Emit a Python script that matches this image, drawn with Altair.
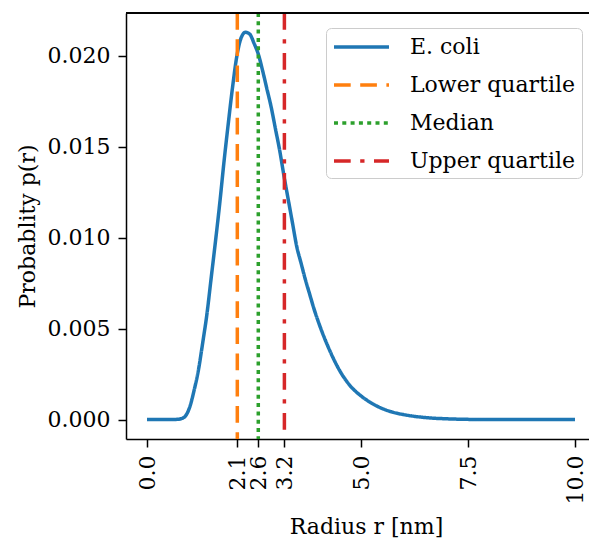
import altair as alt
import pandas as pd

# ---- data ----
radius = [0.0, 0.5, 0.7, 0.8, 0.9, 1.0, 1.1, 1.2, 1.3, 1.4, 1.5, 1.6, 1.7,
          1.8, 1.9, 2.0, 2.1, 2.2, 2.3, 2.4, 2.5, 2.6, 2.7, 2.8, 2.9, 3.0,
          3.1, 3.2, 3.3, 3.4, 3.5, 3.6, 3.7, 3.8, 3.9, 4.0, 4.25, 4.5, 4.75,
          5.0, 5.25, 5.5, 5.75, 6.0, 6.5, 7.0, 7.5, 8.0, 10.0]
prob = [0.0, 0.0, 0.00001, 0.00005, 0.0002, 0.0007, 0.0016, 0.0027, 0.0042,
        0.0058, 0.0078, 0.0098, 0.0119, 0.0142, 0.0163, 0.0183, 0.0200,
        0.0210, 0.0213, 0.0212, 0.0207, 0.0201, 0.0192, 0.0182, 0.0172,
        0.0160, 0.0148, 0.0134, 0.0121, 0.0108, 0.0095, 0.0086, 0.0077,
        0.0069, 0.0061, 0.0054, 0.0039, 0.0027, 0.00185, 0.0013, 0.0009,
        0.0006, 0.0004, 0.00027, 0.00011, 0.00004, 0.00001, 0.0, 0.0]

series_names = ["E. coli", "Lower quartile", "Median", "Upper quartile"]
quartile_names = ["Lower quartile", "Median", "Upper quartile"]
quartile_values = [2.11, 2.60, 3.21]
x_ticks = [0, 2.11, 2.60, 3.21, 5, 7.5, 10]
y_ticks = [0, 0.005, 0.010, 0.015, 0.020]

colors = ["#1f77b4", "#ff7f0e", "#2ca02c", "#d62728"]
dashes = [[1, 0], [16.7, 9.5], [4, 4.3], [16.7, 9.5, 4.3, 9.5]]

FONT = "DejaVu Serif"

curve = pd.DataFrame({"r": radius, "p": prob, "series": "E. coli"})
quart = pd.DataFrame({"r": quartile_values, "series": quartile_names})

legend = alt.Legend(
    title=None, orient="none", legendX=200, legendY=15,
    symbolType="M-1,0H4", symbolSize=484, symbolStrokeWidth=3.5,
    labelFont=FONT, labelFontSize=22, labelColor="black", labelOffset=52,
    labelLimit=400,
    padding=6, rowPadding=14, strokeColor="#cccccc", fillColor="rgba(255,255,255,0.8)",
    cornerRadius=5,
)
color = alt.Color("series:N", scale=alt.Scale(domain=series_names, range=colors), legend=legend)
dash = alt.StrokeDash("series:N", scale=alt.Scale(domain=series_names, range=dashes), legend=legend)

x = alt.X("r:Q",
          scale=alt.Scale(domain=[-0.4907, 10.327], nice=False, zero=False),
          axis=alt.Axis(values=x_ticks, format=".1f", labelAngle=270,
                        labelOverlap=False, labelBound=False,
                        title="Radius r [nm]", titleX=240, titleY=94,
                        titleBaseline="alphabetic", titleAlign="center"))
y = alt.Y("p:Q",
          scale=alt.Scale(domain=[-0.00107, 0.02236], nice=False, zero=False),
          axis=alt.Axis(values=y_ticks, format=".3f", labelOverlap=False,
                        title="Probablity p(r)", titleX=-99, titleY=213,
                        titleAngle=270, titleBaseline="middle", titleAlign="center"))

line = alt.Chart(curve).mark_line(strokeWidth=3.5, clip=True, interpolate="monotone").encode(
    x=x, y=y, color=color, strokeDash=dash)

rules = alt.Chart(quart).mark_rule(strokeWidth=3.5).encode(
    x="r:Q", color=color, strokeDash=dash)

top_spine = alt.Chart(quart).mark_rule(color="black", strokeWidth=1.5).encode(
    y=alt.value(0))

chart = alt.layer(line, rules, top_spine).properties(
    width=463, height=426,
    padding={"left": 118, "top": 5, "right": 0, "bottom": 102},
    autosize=alt.AutoSizeParams(type="none"),
).configure_view(stroke=None).configure_axis(
    labelFont=FONT, labelFontSize=22, labelColor="black",
    titleFont=FONT, titleFontSize=22, titleColor="black", titleFontWeight="normal",
    domainColor="black", domainWidth=1.5, tickColor="black", tickWidth=1.5,
    tickSize=8, labelPadding=8, grid=False,
)

chart.save("out.html", embed_options={"renderer": "svg", "actions": False})
